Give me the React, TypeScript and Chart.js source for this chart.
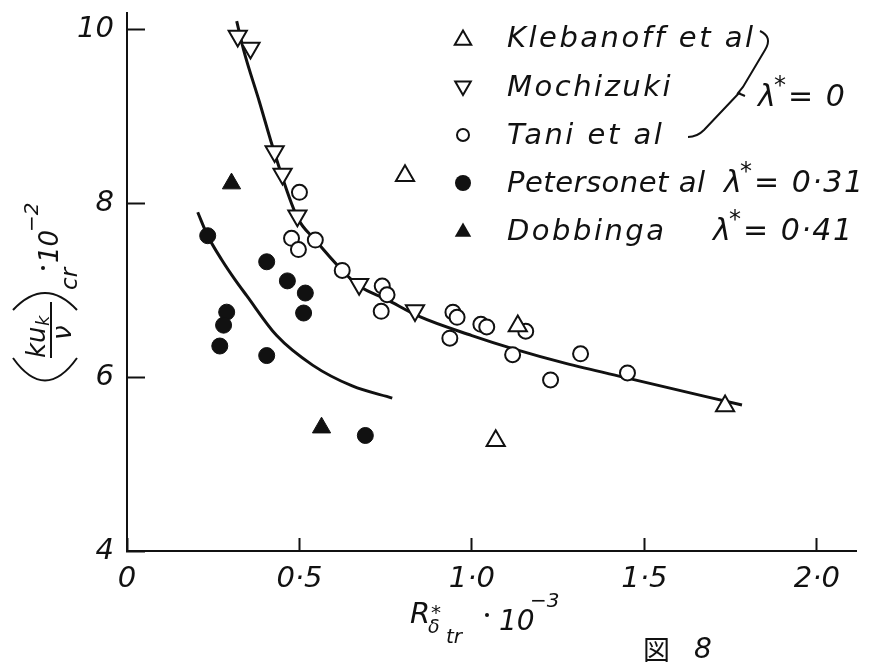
import React, { useEffect, useRef } from 'react';
import { Chart, registerables } from 'chart.js';

Chart.register(...registerables);

// ---------- data ----------
const xTicks = [0, 0.5, 1.0, 1.5, 2.0];
const xTickLabels = ['0', '0·5', '1·0', '1·5', '2·0'];
const yTicks = [4, 6, 8, 10];
const yTickLabels = ['4', '6', '8', '10'];

const klebanoffX = [0.806, 1.133, 1.069, 1.734];
const klebanoffY = [8.32, 6.59, 5.27, 5.67];

const mochizukiX = [0.321, 0.358, 0.428, 0.451, 0.494, 0.673, 0.835];
const mochizukiY = [9.93, 9.79, 8.6, 8.34, 7.86, 7.07, 6.77];

const taniX = [0.5, 0.477, 0.497, 0.546, 0.624, 0.74, 0.754, 0.737, 0.945, 0.957, 0.936, 1.026, 1.043, 1.156, 1.118, 1.315, 1.228, 1.451];
const taniY = [8.13, 7.6, 7.47, 7.58, 7.23, 7.05, 6.95, 6.76, 6.75, 6.69, 6.45, 6.61, 6.58, 6.53, 6.26, 6.27, 5.97, 6.05];

const petersonX = [0.234, 0.405, 0.465, 0.517, 0.512, 0.289, 0.28, 0.269, 0.405, 0.691];
const petersonY = [7.63, 7.33, 7.11, 6.97, 6.74, 6.75, 6.6, 6.36, 6.25, 5.33];

const dobbingaX = [0.303, 0.564];
const dobbingaY = [8.23, 5.42];

// fitted curves as drawn in the figure
const curve0X = [0.318, 0.338, 0.384, 0.428, 0.494, 0.546, 0.624, 0.673, 0.751, 0.847, 1.0, 1.118, 1.272, 1.451, 1.783];
const curve0Y = [10.1, 9.77, 9.17, 8.58, 7.84, 7.58, 7.23, 7.05, 6.9, 6.7, 6.48, 6.33, 6.16, 5.99, 5.68];

const curve31X = [0.205, 0.234, 0.275, 0.312, 0.347, 0.434, 0.538, 0.653, 0.769];
const curve31Y = [7.9, 7.63, 7.35, 7.13, 6.94, 6.48, 6.14, 5.9, 5.76];

const legendNames = ['Klebanoff et al', 'Mochizuki', 'Tani et al', 'Petersonet al', 'Dobbinga'];
const lambdaLabels = ['0', '0·31', '0·41'];

// ---------- styling ----------
const INK = '#111';
const FAM = "'DejaVu Sans', sans-serif";
const f = (size: number, weight = 200) => `italic ${weight} ${size}px ${FAM}`;

const pts = (xs: number[], ys: number[]) => xs.map((x, i) => ({ x, y: ys[i] }));

function drawMarker(ctx: CanvasRenderingContext2D, kind: string, x: number, y: number) {
  ctx.save();
  ctx.lineWidth = 2;
  ctx.strokeStyle = INK;
  ctx.fillStyle = INK;
  ctx.beginPath();
  if (kind === 'up' || kind === 'upFill') {
    const r = 9.5;
    ctx.moveTo(x, y - r);
    ctx.lineTo(x + 0.866 * r, y + 0.5 * r);
    ctx.lineTo(x - 0.866 * r, y + 0.5 * r);
    ctx.closePath();
  } else if (kind === 'down') {
    const r = 9;
    ctx.moveTo(x, y + r);
    ctx.lineTo(x + 0.866 * r, y - 0.5 * r);
    ctx.lineTo(x - 0.866 * r, y - 0.5 * r);
    ctx.closePath();
  } else if (kind === 'circle') {
    ctx.arc(x, y, 6, 0, Math.PI * 2);
  } else {
    ctx.arc(x, y, 8, 0, Math.PI * 2);
  }
  if (kind === 'upFill' || kind === 'dot') ctx.fill();
  else ctx.stroke();
  ctx.restore();
}

function text(ctx: CanvasRenderingContext2D, s: string, x: number, y: number, size: number, spacing = '0px') {
  ctx.font = f(size);
  (ctx as any).letterSpacing = spacing;
  ctx.fillText(s, x, y);
  (ctx as any).letterSpacing = '0px';
}

function lambda(ctx: CanvasRenderingContext2D, val: string, x: number, y: number) {
  text(ctx, 'λ', x, y, 30);
  text(ctx, '*', x + 16, y - 13, 24);
  text(ctx, '= ' + val, x + 30, y, 30, '1.5px');
}

const decorPlugin = {
  id: 'decor',
  afterDraw(chart: any) {
    const { ctx } = chart;
    ctx.save();
    ctx.strokeStyle = INK;
    ctx.fillStyle = INK;
    ctx.lineWidth = 2;
    ctx.textAlign = 'left';
    ctx.textBaseline = 'alphabetic';

    // legend
    const kinds = ['up', 'down', 'circle', 'dot', 'upFill'];
    const baselines = [47, 96, 144, 192, 240];
    const markerY = [40, 86, 135, 183, 232];
    const spacing = ['2.5px', '2.5px', '2.5px', '0.5px', '2.5px'];
    legendNames.forEach((name, i) => {
      drawMarker(ctx, kinds[i], 463, markerY[i]);
      text(ctx, name, 507, baselines[i], 29, spacing[i]);
    });
    lambda(ctx, lambdaLabels[0], 758, 106);
    lambda(ctx, lambdaLabels[1], 724, 192);
    lambda(ctx, lambdaLabels[2], 713, 240);

    // brace joining the three λ*=0 series
    ctx.lineWidth = 2;
    ctx.beginPath();
    ctx.moveTo(760, 31);
    ctx.quadraticCurveTo(773, 37, 765, 50);
    ctx.lineTo(743, 87);
    ctx.lineTo(738, 93);
    ctx.lineTo(745, 96);
    ctx.moveTo(740, 92);
    ctx.lineTo(704, 130);
    ctx.quadraticCurveTo(697, 137, 688, 137);
    ctx.stroke();

    // y-axis title (rotated)
    ctx.save();
    ctx.translate(45, 290);
    ctx.rotate(-Math.PI / 2);
    text(ctx, 'ku', -68, 0, 26);
    text(ctx, 'k', -36, 4, 18);
    ctx.beginPath();
    ctx.moveTo(-68, 6);
    ctx.lineTo(-12, 6);
    ctx.stroke();
    text(ctx, 'ν', -50, 26, 26);
    ctx.beginPath();
    ctx.moveTo(-68, -32);
    ctx.quadraticCurveTo(-113, 0, -68, 32);
    ctx.stroke();
    ctx.beginPath();
    ctx.moveTo(-20, -32);
    ctx.quadraticCurveTo(14, 0, -20, 32);
    ctx.stroke();
    text(ctx, 'cr', 0, 32, 23);
    ctx.beginPath();
    ctx.arc(22, -2, 2, 0, Math.PI * 2);
    ctx.fill();
    text(ctx, '10', 27, 13, 26);
    text(ctx, '−2', 58, -7, 20);
    ctx.restore();

    // x-axis title
    text(ctx, 'R', 410, 623, 29);
    text(ctx, 'δ', 428, 633, 19);
    text(ctx, '*', 431, 619, 20);
    text(ctx, 'tr', 446, 643, 20);
    ctx.beginPath();
    ctx.arc(487, 615, 2, 0, Math.PI * 2);
    ctx.fill();
    text(ctx, '10', 499, 630, 28);
    text(ctx, '−3', 530, 607, 20);

    // figure number
    ctx.font = `400 27px 'Noto Sans CJK JP', sans-serif`;
    ctx.fillText('図', 643, 660);
    text(ctx, '8', 694, 658, 28);

    ctx.restore();
  },
};

export default function App() {
  const ref = useRef<HTMLCanvasElement | null>(null);

  useEffect(() => {
    if (!ref.current) return;
    const open = { backgroundColor: '#fff', borderColor: INK, borderWidth: 2, showLine: false };
    const filled = { backgroundColor: INK, borderColor: INK, borderWidth: 1, showLine: false };
    const chart = new Chart(ref.current, {
      type: 'scatter',
      data: {
        datasets: [
          { label: legendNames[0], data: pts(klebanoffX, klebanoffY), pointStyle: 'triangle', pointRadius: 10.5, ...open, order: 1 },
          { label: legendNames[1], data: pts(mochizukiX, mochizukiY), pointStyle: 'triangle', rotation: 180, pointRadius: 10.5, ...open, order: 1 },
          { label: legendNames[2], data: pts(taniX, taniY), pointStyle: 'circle', pointRadius: 7.5, ...open, order: 1 },
          { label: legendNames[3], data: pts(petersonX, petersonY), pointStyle: 'circle', pointRadius: 8, ...filled, order: 1 },
          { label: legendNames[4], data: pts(dobbingaX, dobbingaY), pointStyle: 'triangle', pointRadius: 10.5, ...filled, order: 1 },
          { label: 'λ*=0', data: pts(curve0X, curve0Y), showLine: true, pointRadius: 0, borderColor: INK, borderWidth: 3, cubicInterpolationMode: 'monotone', order: 5 },
          { label: 'λ*=0.31', data: pts(curve31X, curve31Y), showLine: true, pointRadius: 0, borderColor: INK, borderWidth: 3, cubicInterpolationMode: 'monotone', order: 5 },
        ] as any,
      },
      options: {
        responsive: false,
        maintainAspectRatio: false,
        animation: false,
        layout: { padding: { top: 10, right: 9, left: 0, bottom: 0 } },
        plugins: { legend: { display: false }, tooltip: { enabled: false } },
        scales: {
          x: {
            type: 'linear',
            min: 0,
            max: 2.115,
            afterBuildTicks: (s: any) => {
              s.ticks = xTicks.map((v) => ({ value: v }));
            },
            afterFit: (s: any) => {
              s.height = 111;
              s.paddingLeft = 0;
              s.paddingRight = 0;
            },
            // inward tick marks via a negative tick length
            grid: { display: true, drawOnChartArea: false, drawTicks: true, tickLength: -13, tickWidth: 2, tickColor: INK },
            border: { display: true, color: INK, width: 2 },
            ticks: {
              color: INK,
              padding: 24,
              maxRotation: 0,
              autoSkip: false,
              font: { family: FAM, size: 29, style: 'italic', weight: 200 } as any,
              callback: (v: any) => xTickLabels[xTicks.indexOf(Number(v))] ?? '',
            },
          },
          y: {
            type: 'linear',
            min: 4,
            max: 10.2,
            afterBuildTicks: (s: any) => {
              s.ticks = yTicks.map((v) => ({ value: v }));
            },
            afterFit: (s: any) => {
              s.width = 127;
              s.paddingTop = 0;
              s.paddingBottom = 0;
            },
            grid: { display: true, drawOnChartArea: false, drawTicks: true, tickLength: -18, tickWidth: 2, tickColor: INK },
            border: { display: true, color: INK, width: 2 },
            ticks: {
              color: INK,
              padding: 31,
              autoSkip: false,
              font: { family: FAM, size: 29, style: 'italic', weight: 200 } as any,
              callback: (v: any) => yTickLabels[yTicks.indexOf(Number(v))] ?? '',
            },
          },
        },
      } as any,
      plugins: [decorPlugin],
    });
    return () => chart.destroy();
  }, []);

  return (
    <div style={{ position: 'absolute', left: 0, top: 0, width: 869, height: 662, background: '#fff' }}>
      <canvas ref={ref} width={869} height={662} style={{ display: 'block' }} />
    </div>
  );
}
